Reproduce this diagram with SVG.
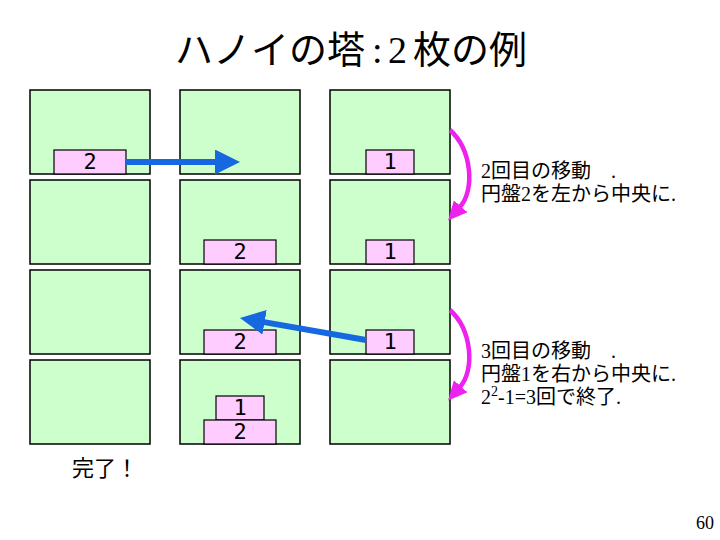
<svg xmlns="http://www.w3.org/2000/svg" width="720" height="540" viewBox="0 0 720 540">
<style>
.box{fill:#ccffcc;stroke:#000;stroke-width:1.5}
.disk{fill:#ffccff;stroke:#000;stroke-width:1.2}
.dl{font-family:"DejaVu Sans Mono",monospace;font-size:22px;text-anchor:middle;fill:#000}
.txt{font-family:"Liberation Serif","Noto Sans CJK JP",serif;font-size:20px;fill:#000}
.ttl{font-family:"Liberation Serif","Noto Sans CJK JP",sans-serif;font-size:38px;fill:#000}
.blue{stroke:#1668e0;stroke-width:6;fill:none}
.mag{stroke:#ee22ee;stroke-width:4.5;fill:none}
</style>
<defs>
<marker id="hb" markerUnits="userSpaceOnUse" markerWidth="27" markerHeight="26" refX="2" refY="12.5" orient="auto" viewBox="0 0 27 26">
<path d="M0,0 L25,12.5 L0,25 z" fill="#1668e0"/>
</marker>
<marker id="hm" markerUnits="userSpaceOnUse" markerWidth="20" markerHeight="19" refX="1" refY="9" orient="auto" viewBox="0 0 20 19">
<path d="M0,0 L19,9 L0,18 z" fill="#ee22ee"/>
</marker>
</defs>
<rect width="720" height="540" fill="#fff"/>
<text class="ttl" y="63"><tspan x="175" font-family="Noto Sans CJK JP,sans-serif">ハノイの塔</tspan><tspan x="372">:</tspan><tspan x="388">2</tspan><tspan x="413" font-family="Noto Sans CJK JP,sans-serif">枚の例</tspan></text>
<g id="r1c1"><rect class="box" x="30" y="90" width="120" height="84"/><rect class="disk" x="54" y="150" width="72" height="24"/><text class="dl" x="90" y="169">2</text></g>
<g id="r1c2"><rect class="box" x="180" y="90" width="120" height="84"/></g>
<g id="r1c3"><rect class="box" x="330" y="90" width="120" height="84"/><rect class="disk" x="366" y="150" width="48" height="24"/><text class="dl" x="390" y="169">1</text></g>
<g id="r2c1"><rect class="box" x="30" y="180" width="120" height="84"/></g>
<g id="r2c2"><rect class="box" x="180" y="180" width="120" height="84"/><rect class="disk" x="204" y="240" width="72" height="24"/><text class="dl" x="240" y="259">2</text></g>
<g id="r2c3"><rect class="box" x="330" y="180" width="120" height="84"/><rect class="disk" x="366" y="240" width="48" height="24"/><text class="dl" x="390" y="259">1</text></g>
<g id="r3c1"><rect class="box" x="30" y="270" width="120" height="84"/></g>
<g id="r3c2"><rect class="box" x="180" y="270" width="120" height="84"/><rect class="disk" x="204" y="330" width="72" height="24"/><text class="dl" x="240" y="349">2</text></g>
<g id="r3c3"><rect class="box" x="330" y="270" width="120" height="84"/><rect class="disk" x="366" y="330" width="48" height="24"/><text class="dl" x="390" y="349">1</text></g>
<g id="r4c1"><rect class="box" x="30" y="360" width="120" height="84"/></g>
<g id="r4c2"><rect class="box" x="180" y="360" width="120" height="84"/><rect class="disk" x="216" y="396" width="48" height="24"/><text class="dl" x="240" y="415">1</text><rect class="disk" x="204" y="420" width="72" height="24"/><text class="dl" x="240" y="439">2</text></g>
<g id="r4c3"><rect class="box" x="330" y="360" width="120" height="84"/></g>
<g id="connectors">
<line class="blue" x1="126" y1="162" x2="217" y2="162" marker-end="url(#hb)"/>
<line class="blue" x1="366" y1="340" x2="262.6" y2="321.9" marker-end="url(#hb)"/>
<path class="mag" d="M450,130 C472,150 475,190 460,207" marker-end="url(#hm)"/>
<path class="mag" d="M450,310 C472,330 475,370 460,387" marker-end="url(#hm)"/>
</g>
<g id="note1">
<text class="txt" x="481" y="178">2回目の移動<tspan x="611">.</tspan></text>
<text class="txt" x="481" y="201">円盤2を左から中央に.</text>
</g>
<g id="note2">
<text class="txt" x="481" y="358">3回目の移動<tspan x="611">.</tspan></text>
<text class="txt" x="481" y="381">円盤1を右から中央に.</text>
<text class="txt" x="481" y="404">2<tspan dy="-8" font-size="14">2</tspan><tspan dy="8">-1=3回で終了.</tspan></text>
</g>
<text x="72" y="476" font-family="Noto Sans CJK JP,sans-serif" font-size="22" fill="#000">完了！</text>
<text x="714" y="529" font-family="Liberation Serif,serif" font-size="18" text-anchor="end" fill="#000">60</text>
</svg>
